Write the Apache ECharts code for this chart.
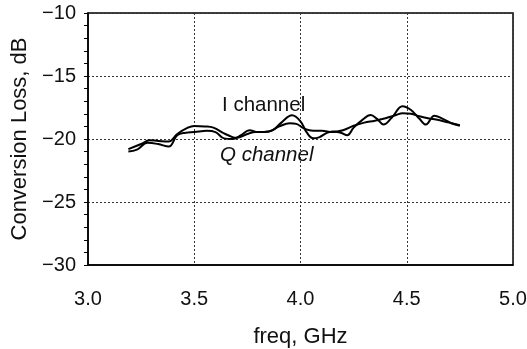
<!DOCTYPE html>
<html>
<head>
<meta charset="utf-8">
<script src="https://cdn.jsdelivr.net/npm/echarts@6/dist/echarts.min.js"></script>
<style>
html,body{margin:0;padding:0;background:#fff;}
#c{width:527px;height:349px;}
</style>
</head>
<body>
<div id="c"></div>
<script>
// Frequency (GHz) and conversion loss (dB) for each channel
const iFreq = [3.19,3.25,3.29,3.33,3.38,3.42,3.47,3.50,3.55,3.59,3.64,3.68,3.70,3.75,3.79,3.83,3.87,3.91,3.96,4.00,4.03,4.06,4.09,4.12,4.15,4.19,4.22,4.25,4.29,4.33,4.36,4.39,4.43,4.48,4.52,4.56,4.59,4.63,4.67,4.71,4.75];
const iLoss = [-20.8,-20.4,-20.1,-20.15,-20.2,-19.6,-19.1,-18.97,-19.0,-19.1,-19.55,-19.85,-19.9,-19.6,-19.45,-19.45,-19.3,-18.7,-18.12,-18.6,-19.5,-19.95,-19.85,-19.55,-19.4,-19.5,-19.7,-19.1,-18.5,-18.1,-18.4,-18.85,-18.3,-17.4,-17.7,-18.4,-18.85,-18.15,-18.4,-18.75,-18.95];
const qFreq = [3.19,3.23,3.28,3.33,3.38,3.42,3.46,3.50,3.56,3.60,3.64,3.68,3.72,3.76,3.80,3.85,3.90,3.95,3.98,4.02,4.06,4.10,4.15,4.20,4.25,4.30,4.35,4.40,4.45,4.48,4.52,4.56,4.60,4.65,4.70,4.75];
const qLoss = [-21.0,-20.85,-20.3,-20.4,-20.6,-19.7,-19.5,-19.45,-19.35,-19.45,-19.95,-20.0,-19.7,-19.3,-19.45,-19.4,-19.0,-18.75,-18.8,-19.2,-19.35,-19.35,-19.45,-19.3,-18.95,-18.7,-18.55,-18.35,-18.1,-17.95,-18.0,-18.2,-18.35,-18.5,-18.7,-18.9];
const xTicks = [3.0,3.5,4.0,4.5,5.0];
const yTicks = [-10,-15,-20,-25,-30];
const xName = 'freq, GHz';
const yName = 'Conversion Loss, dB';
const iLabel = 'I channel';
const qLabel = 'Q channel';

const FONT = '"Liberation Sans", Arial, Helvetica, sans-serif';
const chart = echarts.init(document.getElementById('c'), null, {renderer:'canvas'});
const pair = (xs, ys) => xs.map((x, i) => [x, ys[i]]);
chart.setOption({
  animation: false,
  backgroundColor: '#fff',
  grid: {left: 88, right: 14, top: 13, bottom: 84, show: true, borderColor: '#000', borderWidth: 1.5, backgroundColor: 'transparent', containLabel: false, outerBoundsMode: 'none'},
  xAxis: {
    type: 'value', min: xTicks[0], max: xTicks[xTicks.length-1], interval: 0.5,
    name: xName, nameLocation: 'middle', nameGap: 61,
    nameTextStyle: {fontFamily: FONT, fontSize: 22, color: '#111'},
    axisLine: {show: true, onZero: false, lineStyle: {color: '#000', width: 1.5}},
    axisTick: {show: false},
    axisLabel: {margin: 24, fontFamily: FONT, fontSize: 20, color: '#111', formatter: v => v.toFixed(1)},
    splitLine: {show: true, lineStyle: {color: '#333', type: [2, 2], width: 1}}
  },
  yAxis: {
    type: 'value', min: yTicks[yTicks.length-1], max: yTicks[0], interval: 5,
    name: yName, nameLocation: 'middle', nameGap: 56,
    nameTextStyle: {fontFamily: FONT, fontSize: 22, color: '#111'},
    axisLine: {show: true, onZero: false, lineStyle: {color: '#000', width: 1.5}},
    axisTick: {show: true, inside: false, length: 4, lineStyle: {color: '#000', width: 1}},
    minorTick: {show: true, splitNumber: 5, length: 4, lineStyle: {color: '#000', width: 1}},
    axisLabel: {margin: 12, fontFamily: FONT, fontSize: 20, color: '#111', formatter: v => String(v).replace('-', '\u2212')},
    splitLine: {show: true, lineStyle: {color: '#333', type: [2, 2], width: 1}}
  },
  series: [
    {type: 'line', data: pair(iFreq, iLoss), smooth: 0.4, symbol: 'none', lineStyle: {color: '#000', width: 2}},
    {type: 'line', data: pair(qFreq, qLoss), smooth: 0.4, symbol: 'none', lineStyle: {color: '#000', width: 2}}
  ],
  graphic: [
    {type: 'text', left: 222, top: 95, style: {text: iLabel, font: '20.5px ' + FONT, fill: '#111'}},
    {type: 'text', left: 220, top: 145, style: {text: qLabel, font: 'italic 20.5px ' + FONT, fill: '#111'}}
  ]
});
</script>
</body>
</html>
